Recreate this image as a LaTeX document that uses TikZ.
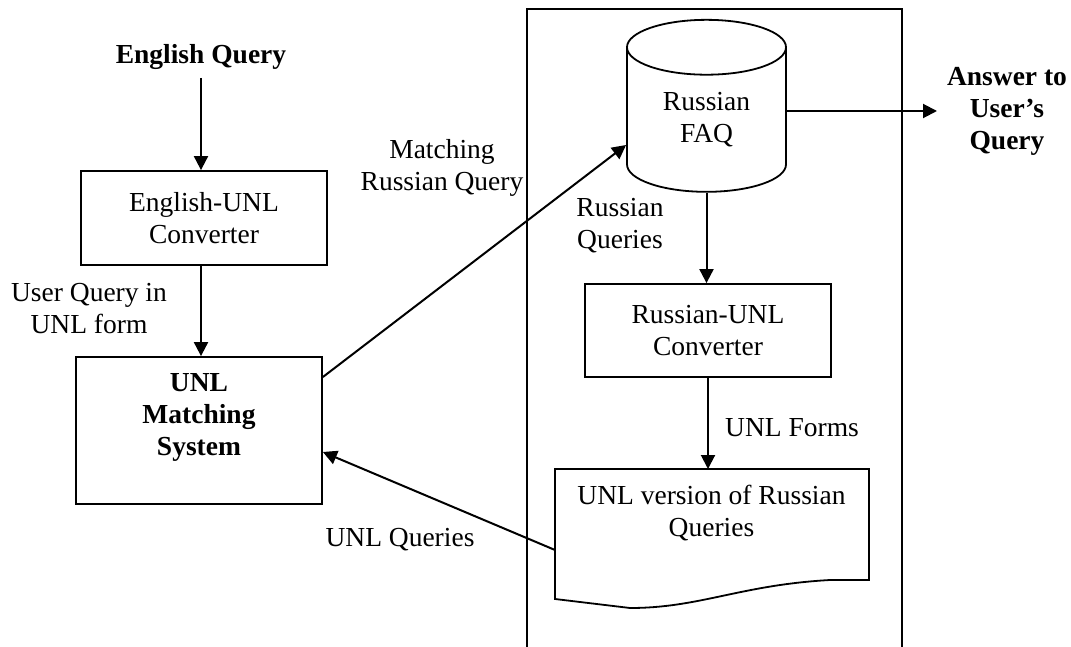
\documentclass[tikz,border=0pt]{standalone}
\usepackage{fontspec}
\setmainfont{Liberation Serif}
\usetikzlibrary{arrows.meta,shapes.geometric}

\tikzset{
    box/.style={draw, line width=1.8pt, minimum width=246pt, align=center},
    lbl/.style={align=center, inner sep=0pt},
    arr/.style={line width=2pt, -{Triangle[length=14pt,width=14pt]}},
}

\begin{document}
\begin{tikzpicture}[x=1pt, y=-1pt, font=\fontsize{27.5}{32}\selectfont]
    \useasboundingbox (0,0) rectangle (1071,647);

    % frame round the Russian side
    \draw[line width=1.8pt] (527,660) -- (527,9) -- (902,9) -- (902,660);

    % English side
    \node[lbl, font=\fontsize{27.5}{32}\selectfont\bfseries] (eq) at (201,57) {English Query};
    \node[box, minimum height=94pt] (euc) at (204,218) {English-UNL\\Converter};
    \node[box, minimum height=147pt, font=\fontsize{27.5}{32}\selectfont\bfseries] (ums) at (199,430.5) {UNL\\Matching\\System\\ \mbox{}};

    % Russian side
    \node[draw, line width=1.8pt, cylinder, shape border rotate=90, aspect=0.63,
          minimum width=159pt, minimum height=172pt, align=center, inner sep=0pt] (faq) at (706.5,120) {Russian\\FAQ};
    \node[box, minimum height=93pt] (ruc) at (708,330.5) {Russian-UNL\\Converter};

    % document with wavy bottom
    \coordinate (dnw) at (555,469);
    \coordinate (dne) at (869,469);
    \coordinate (dw) at (555,550);
    \draw[line width=1.8pt] (dnw) -- (dne) -- (869,580) -- (830,580)
        .. controls (740,585) and (700,608) .. (630,608) -- (555,599) -- cycle;
    \node[lbl] (udoc) at (711.5,513) {UNL version of Russian\\Queries};

    % answer
    \node[lbl, font=\fontsize{27.5}{32}\selectfont\bfseries] (ans) at (1007,111) {Answer to\\User's\\Query};

    % arrows
    \draw[arr] (eq.south) ++(0,8) -- (eq |- euc.north);
    \draw[arr] (eq |- euc.south) -- (eq |- ums.north);
    \draw[arr] (ums.east |- 0,377) -- (faq.west |- 0,145);
    \draw[arr] (faq.east |- ans) -- (937,111);
    \draw[arr] (faq.south) -- (faq.south |- ruc.north);
    \draw[arr] (ruc.south) -- (ruc.south |- dnw);
    \draw[arr] (dw) -- (ums.east |- 0,452);

    % connector labels
    \node[lbl] (lmatch) at (442,168) {Matching\\Russian Query};
    \node[lbl] (lrq) at (620,226) {Russian\\Queries};
    \node[lbl] (luq) at (89,309) {User Query in\\UNL form};
    \node[lbl] (lforms) at (792,428) {UNL Forms};
    \node[lbl] (lqueries) at (400,540) {UNL Queries};
\end{tikzpicture}
\end{document}
